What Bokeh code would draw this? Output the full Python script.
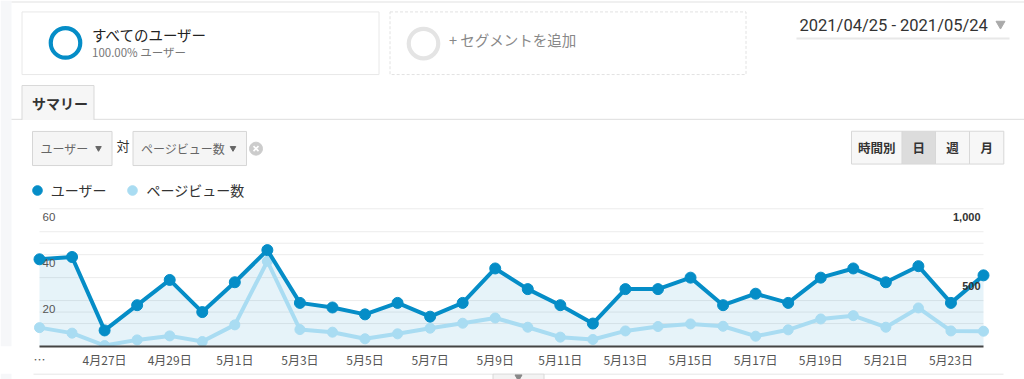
from bokeh.plotting import figure
from bokeh.models import Range1d, FixedTicker, Legend, LegendItem
from bokeh.layouts import column
from bokeh.core.properties import value
from bokeh.embed import file_html
from bokeh.resources import INLINE

# ---------------- data ----------------
date_labels = ["4月25日", "4月26日", "4月27日", "4月28日", "4月29日", "4月30日",
               "5月1日", "5月2日", "5月3日", "5月4日", "5月5日", "5月6日", "5月7日",
               "5月8日", "5月9日", "5月10日", "5月11日", "5月12日", "5月13日", "5月14日",
               "5月15日", "5月16日", "5月17日", "5月18日", "5月19日", "5月20日",
               "5月21日", "5月22日", "5月23日", "5月24日"]
users = [38, 39, 7, 18, 29, 15, 28, 42, 19, 17, 14, 19, 13, 19, 34,
         25, 18, 10, 25, 25, 30, 18, 23, 19, 30, 34, 28, 35, 19, 31]
pageviews = [137, 97, 7, 48, 77, 36, 157, 619, 123, 104, 56, 92, 133, 169, 207,
             140, 68, 51, 113, 145, 164, 147, 75, 121, 200, 224, 140, 280, 113, 111]
series_names = ["ユーザー", "ページビュー数"]
left_ticks = [20, 40, 60]
left_grid = [10, 20, 30, 40, 50, 60]
right_ticks = [500, 1000]
right_grid = [250, 750]
tick_days = list(range(0, len(date_labels), 2))
tick_labels = {i: ("…" if i == 0 else date_labels[i]) for i in tick_days}

segment_title = "すべてのユーザー"
segment_sub = "100.00% ユーザー"
segment_add = "+ セグメントを追加"
date_range_text = "2021/04/25 - 2021/05/24"
tab_text = "サマリー"
metric_vs = "対"
period_buttons = ["時間別", "日", "週", "月"]

JP = "Noto Sans CJK JP"
NUM = "Liberation Sans"
C_USER = "#058dc7"
C_PV = "#a9dcf2"

# ---------------- geometry (page pixels) ----------------
X_FIRST_PAGE, X_LAST_PAGE = 39.0, 983.0
FRAME_L, FRAME_R, FRAME_T, FRAME_B = 0.0, 1024.0, 0.0, 348.0
Y60_PAGE = 209.5
n = len(users)
ppd = (X_LAST_PAGE - X_FIRST_PAGE) / (n - 1)
x_start = -(X_FIRST_PAGE - FRAME_L) / ppd
x_end = (n - 1) + (FRAME_R - X_LAST_PAGE) / ppd
ppu = (FRAME_B - Y60_PAGE) / 60.0
y_end = (FRAME_B - FRAME_T) / ppu
pv_end = y_end * 1000.0 / 60.0

p = figure(width=1024, height=370, x_range=Range1d(x_start, x_end), y_range=Range1d(0, y_end),
           output_backend="svg", toolbar_location=None, y_axis_location=None,
           min_border_left=0, min_border_right=0, min_border_top=0, min_border_bottom=22,
           outline_line_color=None, background_fill_color="white", border_fill_color="white")
p.extra_x_ranges = {"px": Range1d(FRAME_L, FRAME_R)}
p.extra_y_ranges = {"py": Range1d(FRAME_B, FRAME_T), "pv": Range1d(0, pv_end)}
p.xgrid.visible = False
p.ygrid.visible = False
PX = dict(x_range_name="px", y_range_name="py")


def label(x, y, s, size, color="#333333", font=JP, style="normal", align="left"):
    p.text(x=[x], y=[y], text=[s], text_font=value(font), text_font_size=size,
           text_color=color, text_font_style=style, text_align=align,
           text_baseline="middle", **PX)


# ---------------- UI chrome ----------------
p.quad(left=0, right=11, bottom=348, top=0, fill_color="#f6f7f9", line_color=None, **PX)
p.segment(x0=[11], x1=[1024], y0=[1.5], y1=[1.5], line_color="#ebebeb", line_width=1.5, **PX)

# segment boxes
p.quad(left=21.5, right=378.5, top=11.5, bottom=74.5, fill_color="white",
       line_color="#e8e8e8", **PX)
p.scatter(x=[65], y=[42.7], size=29.5, marker="circle", fill_color=None,
          line_color=C_USER, line_width=4.2, **PX)
label(91.5, 34, segment_title, "14.5px", "#222222")
label(91.5, 51.3, segment_sub, "11.5px", "#777777")

p.quad(left=389.5, right=745.5, top=11.5, bottom=74.5, fill_color="white",
       line_color="#e2e2e2", line_dash="3 2", **PX)
p.scatter(x=[423], y=[43.3], size=29.5, marker="circle", fill_color=None,
          line_color="#e4e4e4", line_width=4.2, **PX)
label(448.5, 39.7, segment_add, "14.5px", "#888888")

# date range
label(799, 25, date_range_text, "16.5px", "#333333", font="Roboto")
p.scatter(x=[1000], y=[23.5], size=9, marker="inverted_triangle", color="#aaaaaa", **PX)
p.segment(x0=[796], x1=[1009], y0=[38.3], y1=[38.3], line_color="#e8e8e8", line_width=2, **PX)

# tab line and tab
p.segment(x0=[11], x1=[1024], y0=[119.5], y1=[119.5], line_color="#dddddd", line_width=1, **PX)
p.quad(left=21.5, right=93.5, top=85.5, bottom=120.2, fill_color="#f6f6f6", line_color=None, **PX)
p.segment(x0=[21.5, 21.5, 93.5], x1=[93.5, 21.5, 93.5], y0=[85.5, 85.5, 85.5],
          y1=[85.5, 120, 120], line_color="#d9d9d9", line_width=1, **PX)
label(31.5, 103.5, tab_text, "14px", "#333333", style="bold")

# metric dropdowns
for name, l, r in [(series_names[0], 32, 111.5), (series_names[1], 132.5, 246)]:
    p.quad(left=l, right=r, top=131.7, bottom=166, fill_color="#f5f5f5",
           line_color="#d6d6d6", **PX)
    label(l + 8, 149, name, "12px", "#666666")
    p.scatter(x=[r - 13.5], y=[148.5], size=5.5, marker="inverted_triangle", color="#666666", **PX)
label(116, 145.5, metric_vs, "13px", "#333333")
p.scatter(x=[255.5], y=[149], size=13, marker="circle", color="#cccccc", **PX)
p.segment(x0=[253, 253], x1=[258, 258], y0=[146.5, 151.5], y1=[151.5, 146.5],
          line_color="white", line_width=1.6, **PX)

# period buttons
edges = [851, 901.7, 935, 969, 1003.3]
for i, b in enumerate(period_buttons):
    l, r = edges[i], edges[i + 1]
    p.quad(left=l, right=r, top=131.5, bottom=164.5,
           fill_color="#dcdcdc" if b == "日" else "#f7f7f7", line_color="#d8d8d8", **PX)
    label((l + r) / 2, 148.3, b, "12.5px", "#333333", style="bold", align="center")

# ---------------- chart ----------------
idx = list(range(n))
x_first, x_last = idx[0], idx[-1]
p.segment(x0=[x_first] * len(left_grid), x1=[x_last] * len(left_grid), y0=left_grid,
          y1=left_grid, line_color="#ececec", line_width=1)
p.segment(x0=[x_first] * len(right_grid), x1=[x_last] * len(right_grid), y0=right_grid,
          y1=right_grid, line_color="#ececec", line_width=1, y_range_name="pv")

p.varea(x=idx, y1=[0] * n, y2=users, fill_color=C_USER, fill_alpha=0.1)
p.line(idx, pageviews, line_color=C_PV, line_width=4, y_range_name="pv")
r_pv = p.scatter(idx, pageviews, size=10, color=C_PV, y_range_name="pv")
p.line(idx, users, line_color=C_USER, line_width=4)
r_u = p.scatter(idx, users, size=11, color=C_USER)

# y tick labels drawn inside plot (as in GA)
p.text(x=[x_first] * len(left_ticks), y=left_ticks, text=[str(t) for t in left_ticks],
       text_font=value(NUM), text_font_size="11.5px", text_color="#555555",
       text_baseline="middle", x_offset=3, y_offset=8)
p.text(x=[x_last] * len(right_ticks), y=right_ticks, text=[f"{t:,}" for t in right_ticks],
       text_font=value(NUM), text_font_size="11px", text_color="#333333",
       text_font_style="bold", text_align="right", text_baseline="middle",
       x_offset=-3, y_offset=8, y_range_name="pv")

# x axis
ax = p.xaxis[0]
ax.ticker = FixedTicker(ticks=tick_days)
ax.major_label_overrides = tick_labels
ax.bounds = (x_first, x_last)
ax.major_tick_line_color = None
ax.minor_tick_line_color = None
ax.major_tick_out = 0
ax.major_tick_in = 0
ax.minor_tick_out = 0
ax.minor_tick_in = 0
ax.axis_line_color = "#444444"
ax.axis_line_width = 2
ax.major_label_text_font = JP
ax.major_label_text_font_size = "12px"
ax.major_label_text_color = "#555555"
ax.major_label_standoff = 4

# legend
legend = Legend(items=[LegendItem(label=series_names[0], renderers=[r_u]),
                       LegendItem(label=series_names[1], renderers=[r_pv])],
                orientation="horizontal", location=(24.7, 144.3),
                glyph_width=24, glyph_height=24, label_standoff=2, spacing=14,
                padding=0, margin=0, border_line_color=None, background_fill_alpha=0,
                label_text_font=JP, label_text_font_size="14px", label_text_color="#333333")
p.add_layout(legend, "center")

# bottom separator and expand tab
sep = figure(width=1024, height=9, x_range=Range1d(0, 1024), y_range=Range1d(379, 370),
             output_backend="svg", toolbar_location=None, x_axis_location=None,
             y_axis_location=None, min_border=0, outline_line_color=None,
             background_fill_color="white", border_fill_color="white")
sep.xgrid.visible = False
sep.ygrid.visible = False
sep.quad(left=0, right=11, bottom=379, top=370, fill_color="#f6f7f9", line_color=None)
sep.quad(left=33, right=1003, bottom=371, top=370, fill_color="#dddddd", line_color=None)
sep.quad(left=492.5, right=543.5, bottom=380, top=370.5, fill_color="#f3f3f3",
         line_color="#d8d8d8")
sep.scatter(x=[518], y=[373.5], size=7, marker="inverted_triangle", color="#888888")

layout = column(p, sep, spacing=0)
open("out.html", "w").write(file_html(layout, INLINE))
